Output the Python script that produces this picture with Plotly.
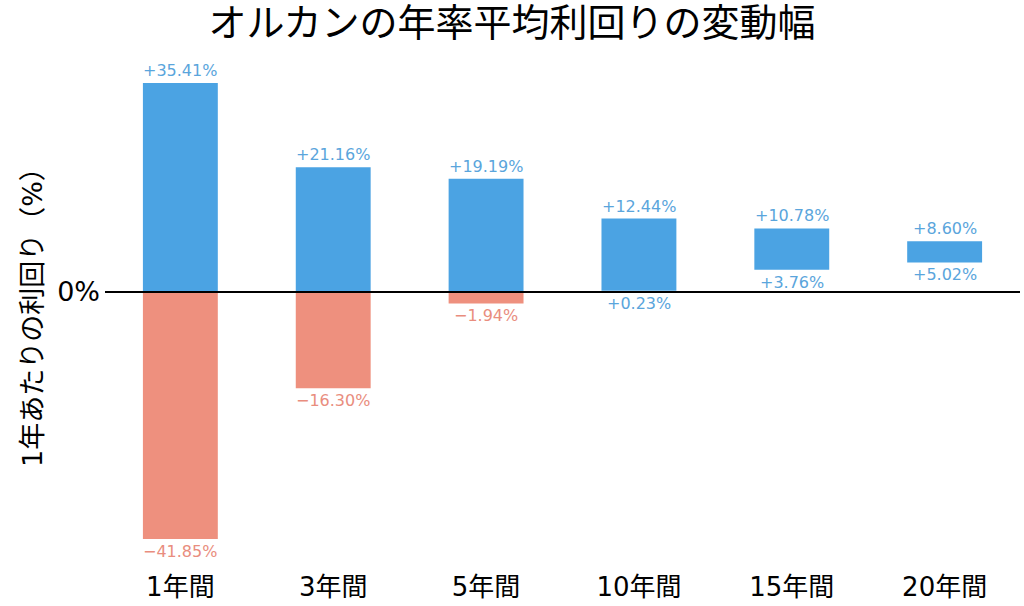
import plotly.graph_objects as go

categories = ["1年間", "3年間", "5年間", "10年間", "15年間", "20年間"]
max_returns = [35.41, 21.16, 19.19, 12.44, 10.78, 8.60]
min_returns = [-41.85, -16.30, -1.94, 0.23, 3.76, 5.02]

BLUE = "#4BA3E3"
RED = "#EE907E"
BLUE_TXT = "#5AA5DC"
RED_TXT = "#E98D7E"
JP_FONT = "DejaVu Sans, Noto Sans CJK JP"


def fmt(v):
    return f"{v:+.2f}%".replace("-", "\u2212")


pos_base = [max(mn, 0) for mn in min_returns]
pos_len = [mx - b for mx, b in zip(max_returns, pos_base)]
neg_base = [mn if mn < 0 else 0 for mn in min_returns]
neg_len = [-mn if mn < 0 else 0 for mn in min_returns]

fig = go.Figure()
fig.add_trace(go.Bar(x=categories, y=pos_len, base=pos_base, marker_color=BLUE,
                     marker_line_width=0, width=0.49, showlegend=False, hoverinfo="skip"))
fig.add_trace(go.Bar(x=categories, y=neg_len, base=neg_base, marker_color=RED,
                     marker_line_width=0, width=0.49, showlegend=False, hoverinfo="skip"))

annotations = []
for c, mx, mn in zip(categories, max_returns, min_returns):
    annotations.append(dict(x=c, y=mx, text=fmt(mx), showarrow=False, xanchor="center",
                            yanchor="bottom", yshift=1,
                            font=dict(family="DejaVu Sans", size=16, color=BLUE_TXT)))
    annotations.append(dict(x=c, y=mn, text=fmt(mn), showarrow=False, xanchor="center",
                            yanchor="top", yshift=-1,
                            font=dict(family="DejaVu Sans", size=16,
                                      color=RED_TXT if mn < 0 else BLUE_TXT)))

annotations.append(dict(x=-0.0798, y=0.5, xref="paper", yref="paper", text="1年あたりの利回り（%）",
                        textangle=-90, showarrow=False, xanchor="center", yanchor="middle",
                        font=dict(family=JP_FONT, size=27, color="black")))

fig.update_layout(
    width=1024, height=606,
    margin=dict(l=105, r=4, t=60, b=46),
    paper_bgcolor="white", plot_bgcolor="white",
    barmode="overlay",
    title=dict(text="オルカンの年率平均利回りの変動幅", x=0.5, xanchor="center",
               y=0.963, yanchor="middle", yref="container",
               font=dict(family=JP_FONT, size=38, color="black")),
    xaxis=dict(range=[-0.493, 5.493], showgrid=False, zeroline=False, showline=False,
               automargin=False,
               ticks="", tickfont=dict(family=JP_FONT, size=26, color="black"),
               ticklabelstandoff=9),
    yaxis=dict(range=[-45.42, 39.32], showgrid=False, zeroline=False, showline=False,
               automargin=False,
               tickvals=[0], ticktext=["0%"], ticks="", ticklabelstandoff=4,
               tickfont=dict(family="DejaVu Sans", size=27, color="black")),
    annotations=annotations,
    shapes=[dict(type="line", xref="paper", yref="y", x0=0, x1=1, y0=0, y1=0,
                 line=dict(color="black", width=2), layer="above")],
)

fig.write_html("out.html", config={"displayModeBar": False},
               post_script="document.body.style.margin='0';document.body.style.overflow='hidden';")
